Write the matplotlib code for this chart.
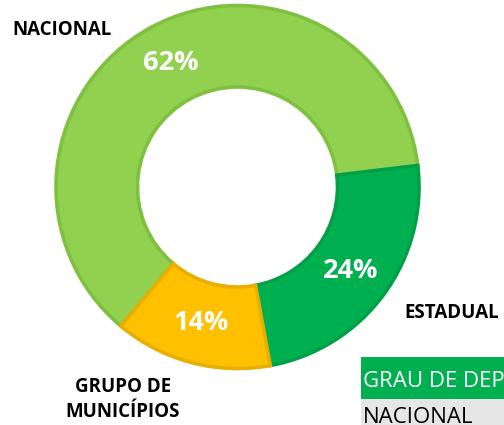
import matplotlib.pyplot as plt
from matplotlib.patches import Rectangle

plt.rcParams['font.family'] = ['Open Sans', 'DejaVu Sans']

categories = ['NACIONAL', 'ESTADUAL', 'GRUPO DE\nMUNICÍPIOS']
values = [62, 24, 14]
colors = ['#92D050', '#00B050', '#FFC000']
edge_colors = ['#80C040', '#00A048', '#E8AE00']
table_header = 'GRAU DE DEPENDÊNCIA'
table_first_row = 'NACIONAL'

W, H = 504, 425
fig = plt.figure(figsize=(W / 100, H / 100), dpi=100)
ax = fig.add_axes([0, 0, 1, 1])

cx, cy = 237.5, H - 187
r_out, r_in = 181.5, 100

wedges, texts, autotexts = ax.pie(values, colors=colors, startangle=230, counterclock=False,
                                  center=(cx, cy), radius=r_out, autopct='%1.0f%%',
                                  pctdistance=(r_out + r_in) / 2 / r_out,
                                  wedgeprops=dict(width=r_out - r_in, linewidth=2.6),
                                  textprops=dict(color='white', fontsize=19.5, fontweight='bold'))
for w, ec in zip(wedges, edge_colors):
    w.set_edgecolor(ec)

ax.set_xlim(0, W)
ax.set_ylim(0, H)
ax.set_aspect('equal')
ax.axis('off')

# category labels outside the ring
label_pos = [(62, H - 35), (451.5, H - 318), (123, H - 417)]
for name, (x, y) in zip(categories, label_pos):
    ax.text(x, y, name, ha='center', va='baseline', fontsize=13.5, fontweight='bold',
            color='black', linespacing=1.3, multialignment='center')

# piece of the table that sits under the chart (cut by the picture edge)
ax.add_patch(Rectangle((361, H - 399), 200, 42, facecolor='#00B050', edgecolor='none', clip_on=True))
ax.add_patch(Rectangle((361, 0), 200, H - 399, facecolor='#E6E6E6', edgecolor='none', clip_on=True))
ax.text(363, H - 387, table_header, ha='left', va='baseline', fontsize=16, color='white')
ax.text(363, H - 423, table_first_row, ha='left', va='baseline', fontsize=16, color='black')

plt.savefig('out.png', dpi=100)
